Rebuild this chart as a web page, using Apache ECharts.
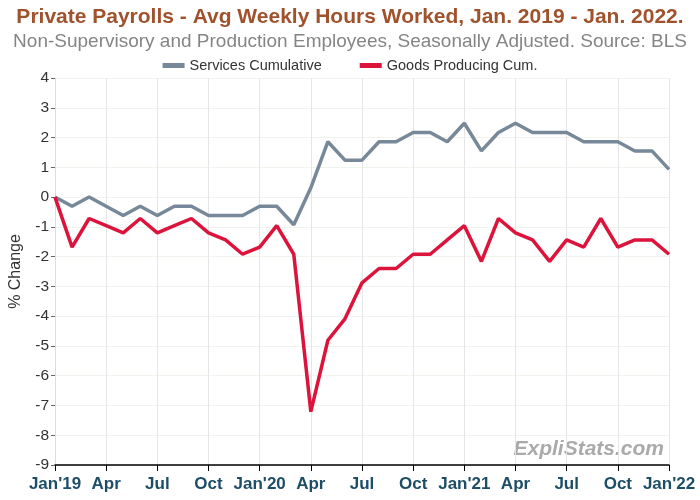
<!DOCTYPE html>
<html>
<head>
<meta charset="utf-8">
<script src="https://cdn.jsdelivr.net/npm/echarts@6/dist/echarts.min.js"></script>
<style>html,body{margin:0;padding:0;background:#fff;}#c{width:700px;height:500px;}</style>
</head>
<body>
<div id="c"></div>
<script>
const months = ["Jan'19","Feb'19","Mar'19","Apr'19","May'19","Jun'19","Jul'19","Aug'19","Sep'19","Oct'19","Nov'19","Dec'19",
"Jan'20","Feb'20","Mar'20","Apr'20","May'20","Jun'20","Jul'20","Aug'20","Sep'20","Oct'20","Nov'20","Dec'20",
"Jan'21","Feb'21","Mar'21","Apr'21","May'21","Jun'21","Jul'21","Aug'21","Sep'21","Oct'21","Nov'21","Dec'21","Jan'22"];
const tickLabels = ["Jan'19","Apr","Jul","Oct","Jan'20","Apr","Jul","Oct","Jan'21","Apr","Jul","Oct","Jan'22"];
const services = [0,-0.31,0,-0.31,-0.62,-0.31,-0.62,-0.31,-0.31,-0.62,-0.62,-0.62,
-0.31,-0.31,-0.93,0.31,1.86,1.24,1.24,1.86,1.86,2.17,2.17,1.86,
2.48,1.55,2.17,2.48,2.17,2.17,2.17,1.86,1.86,1.86,1.55,1.55,0.93];
const goods = [0,-1.68,-0.72,-0.96,-1.2,-0.72,-1.2,-0.96,-0.72,-1.2,-1.44,-1.92,
-1.68,-0.96,-1.92,-7.21,-4.81,-4.09,-2.88,-2.4,-2.4,-1.92,-1.92,-1.44,
-0.96,-2.16,-0.72,-1.2,-1.44,-2.16,-1.44,-1.68,-0.72,-1.68,-1.44,-1.44,-1.92];

const chart = echarts.init(document.getElementById('c'));
const F = 'Liberation Sans, Arial, sans-serif';
chart.setOption({
  animation:false,
  textStyle:{fontFamily:F},
  title:[
    {text:'Private Payrolls - Avg Weekly Hours Worked, Jan. 2019 - Jan. 2022.',left:'center',top:2,
     textStyle:{fontFamily:F,fontSize:21,fontWeight:'bold',color:'#a0522d'}},
    {text:'Non-Supervisory and Production Employees, Seasonally Adjusted. Source: BLS',left:'center',top:27,
     textStyle:{fontFamily:F,fontSize:19,fontWeight:'normal',color:'#858585'}}
  ],
  legend:{top:53,left:'center',itemWidth:22,itemHeight:5,itemGap:38,icon:'rect',
    textStyle:{fontFamily:F,fontSize:14.5,color:'#333'},
    data:['Services Cumulative','Goods Producing Cum.']},
  grid:{left:52,right:31,top:78,bottom:35,containLabel:false},
  xAxis:{type:'category',data:months,boundaryGap:false,
    axisLine:{onZero:false,lineStyle:{color:'#000',width:1.5}},
    axisTick:{interval:2,length:6,lineStyle:{color:'#000'}},
    axisLabel:{interval:2,margin:11,fontSize:17,fontWeight:'bold',color:'#1d4e66',fontFamily:F,
      formatter:function(v,i){return tickLabels[i/3];}},
    splitLine:{show:true,interval:2,lineStyle:{color:'#e6e6e6',width:1}}
  },
  yAxis:{type:'value',min:-9,max:4,interval:1,name:'% Change',nameLocation:'middle',nameGap:31,
    nameTextStyle:{fontFamily:F,fontSize:16,color:'#333'},
    axisLine:{show:true,lineStyle:{color:'#ddd'}},
    axisTick:{show:true,length:4,lineStyle:{color:'#666'}},
    axisLabel:{fontSize:15.5,color:'#333',margin:6,fontFamily:F},
    splitLine:{lineStyle:{color:'#f1f4ec'}}
  },
  graphic:[{type:'text',right:36,bottom:40,style:{text:'ExpliStats.com',fontFamily:F,fontSize:21,fontWeight:'bold',fontStyle:'italic',fill:'#aaaaaa'}}],
  series:[
    {name:'Services Cumulative',type:'line',data:services,showSymbol:false,symbol:'none',
      lineStyle:{color:'#778899',width:3.5},itemStyle:{color:'#778899'}},
    {name:'Goods Producing Cum.',type:'line',data:goods,showSymbol:false,symbol:'none',
      lineStyle:{color:'#dc143c',width:3.5},itemStyle:{color:'#dc143c'}}
  ]
});
</script>
</body>
</html>
